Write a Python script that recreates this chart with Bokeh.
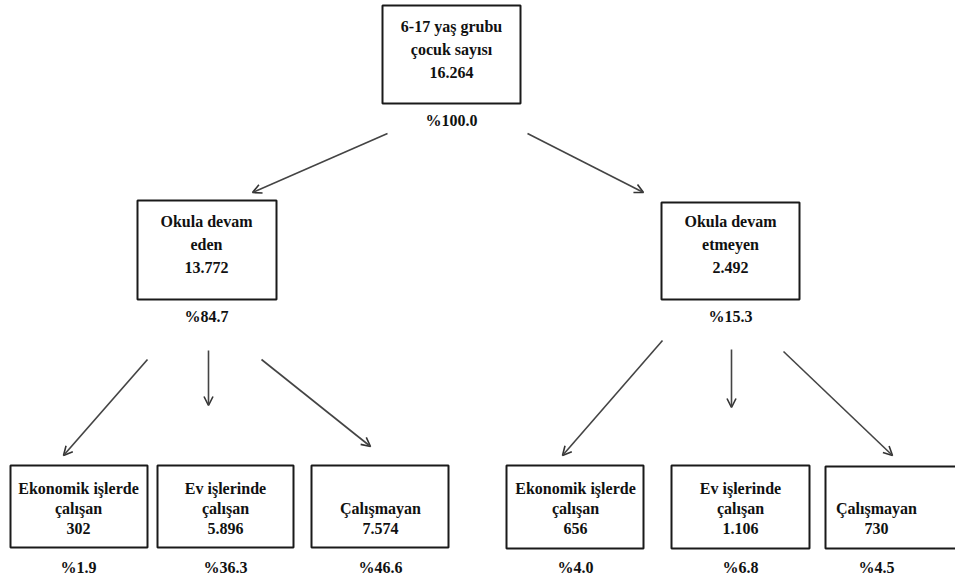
from bokeh.plotting import figure
from bokeh.models import Range1d, ColumnDataSource, Arrow, OpenHead
from bokeh.core.properties import value
from bokeh.embed import file_html
from bokeh.resources import INLINE

# ---- data ----
names = [
    "6-17 yaş grubu\nçocuk sayısı",
    "Okula devam\neden",
    "Okula devam\netmeyen",
    "Ekonomik işlerde\nçalışan",
    "Ev işlerinde\nçalışan",
    "Çalışmayan",
    "Ekonomik işlerde\nçalışan",
    "Ev işlerinde\nçalışan",
    "Çalışmayan",
]
counts = ["16.264", "13.772", "2.492", "302", "5.896", "7.574", "656", "1.106", "730"]
percents = [100.0, 84.7, 15.3, 1.9, 36.3, 46.6, 4.0, 6.8, 4.5]
levels = [0, 1, 1, 2, 2, 2, 2, 2, 2]

# ---- layout (screen pixel coordinates) ----
box_left = [382, 137, 661, 10, 157, 311, 506, 671, 825]
box_right = [520, 276, 799, 147, 293, 448, 643, 809, 965]
box_top = [5, 200, 202, 465, 465, 465, 465, 465, 466]
box_bottom = [103, 299, 299, 547, 547, 547, 548, 548, 548]
text_x = [451, 206, 730, 78, 225, 380, 575, 740, 876]
count_y = {0: 72, 1: 267, 2: 528}
line_gap = {0: 23, 1: 23, 2: 20}
pct_y = {0: 120, 1: 316, 2: 567}

arrows = dict(
    x0=[387, 527, 147, 208, 261, 662, 731, 783],
    y0=[133, 133, 359, 350, 359, 340, 349, 351],
    x1=[252, 643, 63, 208, 370, 562, 731, 892],
    y1=[192, 192, 455, 405, 446, 455, 407, 455],
)

FONT = value("Liberation Serif")

p = figure(width=955, height=579, x_range=Range1d(0, 955), y_range=Range1d(579, 0),
           output_backend="svg", toolbar_location=None, min_border=0)
p.axis.visible = False
p.grid.visible = False
p.outline_line_color = None
p.background_fill_color = "white"
p.border_fill_color = "white"

p.quad(left=box_left, right=box_right, top=box_top, bottom=box_bottom,
       fill_color="white", line_color="#1a1a1a", line_width=2)

xs, ys, ts = [], [], []
pxs, pys, pts = [], [], []
for i, nm in enumerate(names):
    cx = text_x[i]
    lines = nm.split("\n") + [counts[i]]
    lv = levels[i]
    n = len(lines)
    for k, ln in enumerate(lines):
        xs.append(cx)
        ys.append(count_y[lv] - (n - 1 - k) * line_gap[lv])
        ts.append(ln)
    pxs.append(cx)
    pys.append(pct_y[lv])
    pts.append(f"%{percents[i]:.1f}")

p.text(x=xs, y=ys, text=ts, text_font=FONT, text_font_style="bold",
       text_font_size="16px", text_align="center", text_baseline="middle", text_color="#111111")
p.text(x=pxs, y=pys, text=pts, text_font=FONT, text_font_style="bold",
       text_font_size="16px", text_align="center", text_baseline="middle", text_color="#111111")

src = ColumnDataSource(arrows)
p.add_layout(Arrow(end=OpenHead(size=9, line_width=1.6, line_color="#333333"),
                   x_start="x0", y_start="y0", x_end="x1", y_end="y1", source=src,
                   line_color="#444444", line_width=1.6))

open("out.html", "w").write(file_html(p, INLINE))
